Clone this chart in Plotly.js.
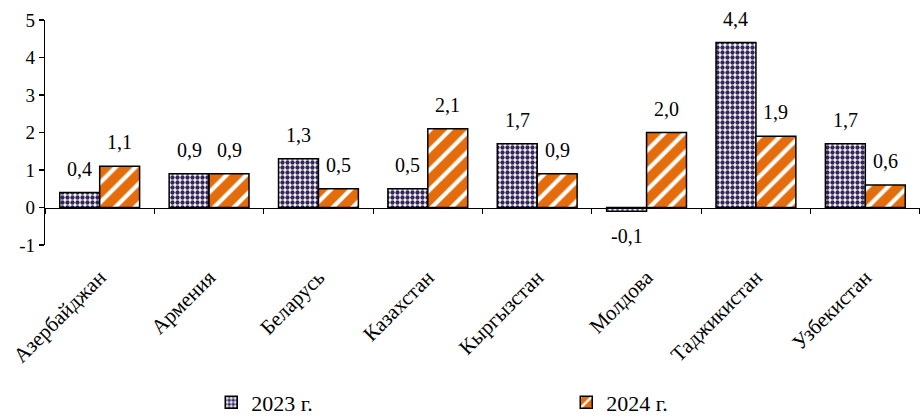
<!DOCTYPE html>
<html>
<head>
<meta charset="utf-8">
<script src="https://cdn.plot.ly/plotly-3.0.1.min.js"></script>
<style>html,body{margin:0;padding:0;background:#fff;}#chart{width:920px;height:419px;}</style>
</head>
<body>
<div id="chart"></div>
<script>
const categories = ["Азербайджан","Армения","Беларусь","Казахстан","Кыргызстан","Молдова","Таджикистан","Узбекистан"];
const values2023 = [0.4, 0.9, 1.3, 0.5, 1.7, -0.1, 4.4, 1.7];
const values2024 = [1.1, 0.9, 0.5, 2.1, 0.9, 2.0, 1.9, 0.6];
const seriesNames = ["2023 г.", "2024 г."];
const yTicks = [-1, 0, 1, 2, 3, 4, 5];

const FONT = "Liberation Serif, Times New Roman, serif";
const BAR_OFFSET_PX = 20;

const trace2023 = {
  type: "bar", name: seriesNames[0], x: categories, y: values2023,
  marker: {color: "#ffffff", line: {color: "#000", width: 1.5},
    pattern: {shape: ".", fgcolor: "#34265a", bgcolor: "#ffffff", size: 5, solidity: 0.6, fillmode: "replace"}},
  hoverinfo: "skip"
};
const trace2024 = {
  type: "bar", name: seriesNames[1], x: categories, y: values2024,
  marker: {color: "#e46c0a", line: {color: "#000", width: 1.5},
    pattern: {shape: "/", fgcolor: "#ffffff", bgcolor: "#e46c0a", size: 14, solidity: 0.3, fillmode: "replace"}},
  hoverinfo: "skip"
};
const axisTrace = {
  type: "scatter", mode: "none", x: categories, y: categories.map(() => null),
  xaxis: "x2", showlegend: false, hoverinfo: "skip"
};

function labelAnnotations(values, shift) {
  return values.map((v, i) => ({
    x: categories[i], y: v, xref: "x", yref: "y",
    text: v.toFixed(1).replace(".", ","),
    showarrow: false, xshift: shift,
    yanchor: v >= 0 ? "bottom" : "top",
    yshift: v >= 0 ? 11 : -12,
    font: {family: FONT, size: 20, color: "#000"}
  }));
}

const layout = {
  width: 920, height: 419,
  margin: {l: 45, r: 0, t: 20, b: 174, autoexpand: false},
  paper_bgcolor: "#fff", plot_bgcolor: "#fff",
  separators: ", ",
  font: {family: FONT, color: "#000"},
  barmode: "group", bargap: 0.27, bargroupgap: 0,
  xaxis: {
    type: "category", categoryarray: categories, range: [-0.5, 7.5],
    showline: false, ticks: "", showgrid: false, zeroline: false, automargin: false,
    tickangle: -45, tickfont: {family: FONT, size: 21, color: "#000"},
    ticklabelstandoff: 15
  },
  xaxis2: {
    type: "category", categoryarray: categories, range: [-0.5, 7.5],
    overlaying: "x", anchor: "free", position: 1/6,
    showline: true, linecolor: "#000", linewidth: 1.2,
    ticks: "outside", tickson: "boundaries", ticklen: 5, tickcolor: "#000", tickwidth: 1.2,
    showticklabels: false, showgrid: false, zeroline: false
  },
  yaxis: {
    range: [-1, 5], tickvals: yTicks, ticktext: yTicks.map(String),
    showline: true, linecolor: "#000", linewidth: 1.2,
    ticks: "outside", ticklen: 5, tickcolor: "#000", tickwidth: 1.2,
    showgrid: false, zeroline: false, automargin: false,
    tickfont: {family: FONT, size: 19, color: "#000"}
  },
  legend: {
    orientation: "h", x: 0.19, y: -0.70, xanchor: "left", yanchor: "middle",
    entrywidth: 310, entrywidthmode: "pixels",
    font: {family: FONT, size: 22, color: "#000"}
  },
  annotations: labelAnnotations(values2023, -BAR_OFFSET_PX).concat(labelAnnotations(values2024, BAR_OFFSET_PX))
};

Plotly.newPlot("chart", [trace2023, trace2024, axisTrace], layout, {staticPlot: true, displayModeBar: false});
</script>
</body>
</html>
